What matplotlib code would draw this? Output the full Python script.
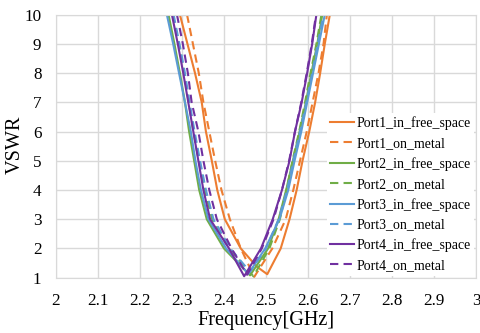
import matplotlib
matplotlib.use('Agg')
import matplotlib.pyplot as plt

# VSWR levels where branch frequencies were read
left_levels = [10, 9, 8, 7, 6, 5, 4, 3, 2]
right_levels = [2, 3, 4, 5, 6, 7, 8, 9, 10]

labels = ['Port1_in_free_space', 'Port1_on_metal',
          'Port2_in_free_space', 'Port2_on_metal',
          'Port3_in_free_space', 'Port3_on_metal',
          'Port4_in_free_space', 'Port4_on_metal']

# frequency (GHz) at each VSWR level, falling side
p1_free_left = [2.295, 2.313, 2.331, 2.347, 2.357, 2.371, 2.384, 2.402, 2.440]
p1_metal_left = [2.312, 2.326, 2.340, 2.351, 2.365, 2.379, 2.394, 2.414, 2.440]
p2_free_left = [2.268, 2.282, 2.295, 2.307, 2.317, 2.329, 2.341, 2.359, 2.400]
p2_metal_left = [2.278, 2.292, 2.305, 2.316, 2.327, 2.340, 2.354, 2.372, 2.412]
p3_free_left = [2.264, 2.279, 2.293, 2.307, 2.321, 2.332, 2.345, 2.363, 2.405]
p3_metal_left = [2.280, 2.294, 2.307, 2.318, 2.330, 2.343, 2.357, 2.375, 2.415]
p4_free_left = [2.276, 2.290, 2.303, 2.315, 2.327, 2.339, 2.351, 2.367, 2.412]
p4_metal_left = [2.288, 2.302, 2.314, 2.323, 2.339, 2.351, 2.365, 2.383, 2.418]

# points around the resonance (freq, vswr)
p1_free_min = [(2.478, 1.38), (2.503, 1.12)]
p1_metal_min = [(2.472, 1.03)]
p2_free_min = [(2.462, 1.08)]
p2_metal_min = [(2.470, 1.05)]
p3_free_min = [(2.458, 1.13)]
p3_metal_min = [(2.462, 1.2)]
p4_free_min = [(2.448, 1.05)]
p4_metal_min = [(2.455, 1.1)]

# frequency at each VSWR level, rising side
p1_free_right = [2.535, 2.556, 2.573, 2.587, 2.603, 2.617, 2.629, 2.640, 2.652]
p1_metal_right = [2.515, 2.547, 2.565, 2.581, 2.597, 2.611, 2.625, 2.637, 2.645]
p2_free_right = [2.505, 2.530, 2.548, 2.564, 2.580, 2.595, 2.608, 2.622, 2.634]
p2_metal_right = [2.508, 2.533, 2.549, 2.563, 2.579, 2.593, 2.606, 2.620, 2.632]
p3_free_right = [2.498, 2.532, 2.553, 2.568, 2.584, 2.598, 2.612, 2.626, 2.640]
p3_metal_right = [2.500, 2.530, 2.550, 2.565, 2.581, 2.596, 2.610, 2.623, 2.637]
p4_free_right = [2.488, 2.516, 2.538, 2.556, 2.569, 2.585, 2.598, 2.610, 2.620]
p4_metal_right = [2.490, 2.518, 2.538, 2.555, 2.569, 2.584, 2.597, 2.609, 2.619]

lefts = [p1_free_left, p1_metal_left, p2_free_left, p2_metal_left,
         p3_free_left, p3_metal_left, p4_free_left, p4_metal_left]
mins = [p1_free_min, p1_metal_min, p2_free_min, p2_metal_min,
        p3_free_min, p3_metal_min, p4_free_min, p4_metal_min]
rights = [p1_free_right, p1_metal_right, p2_free_right, p2_metal_right,
          p3_free_right, p3_metal_right, p4_free_right, p4_metal_right]

colors = ['#ED7D31', '#ED7D31', '#70AD47', '#70AD47',
          '#5B9BD5', '#5B9BD5', '#7030A0', '#7030A0']

plt.rcParams['font.family'] = ['Liberation Serif', 'DejaVu Serif']

fig = plt.figure(figsize=(4.81, 3.33), dpi=100)
ax = fig.add_axes([0.1164, 0.166, 0.8732, 0.790])

for i in range(8):
    f = lefts[i] + [p[0] for p in mins[i]] + rights[i]
    v = left_levels + [p[1] for p in mins[i]] + right_levels
    ls = '-' if i % 2 == 0 else (0, (4, 2.5))
    ax.plot(f, v, color=colors[i], linestyle=ls, linewidth=1.5, label=labels[i])

ax.set_xlim(2, 3)
ax.set_ylim(1, 10)
ax.set_xticks([2 + 0.1 * k for k in range(11)])
ax.set_xticklabels(['2', '2.1', '2.2', '2.3', '2.4', '2.5', '2.6', '2.7', '2.8', '2.9', '3'])
ax.set_yticks(range(1, 11))
ax.tick_params(length=0, labelsize=12.3)
ax.tick_params(axis='x', pad=11)
ax.tick_params(axis='y', pad=10.5)
ax.grid(True, color='#d9d9d9', linewidth=1)
ax.set_axisbelow(True)
for s in ax.spines.values():
    s.set_color('#d9d9d9')

ax.set_xlabel('Frequency[GHz]', fontsize=14.6)
ax.set_ylabel('VSWR', fontsize=14.6)
ax.xaxis.set_label_coords(0.5, -0.128)
ax.yaxis.set_label_coords(-0.074, 0.505)

leg = ax.legend(loc='lower right', bbox_to_anchor=(1.0, 0.0), fontsize=10,
                frameon=True, facecolor='white', edgecolor='none', framealpha=1,
                fancybox=False, handlelength=1.7, handletextpad=0.15,
                labelspacing=0.5, borderpad=0.25, borderaxespad=0.15)

fig.savefig('out.png', dpi=100)
